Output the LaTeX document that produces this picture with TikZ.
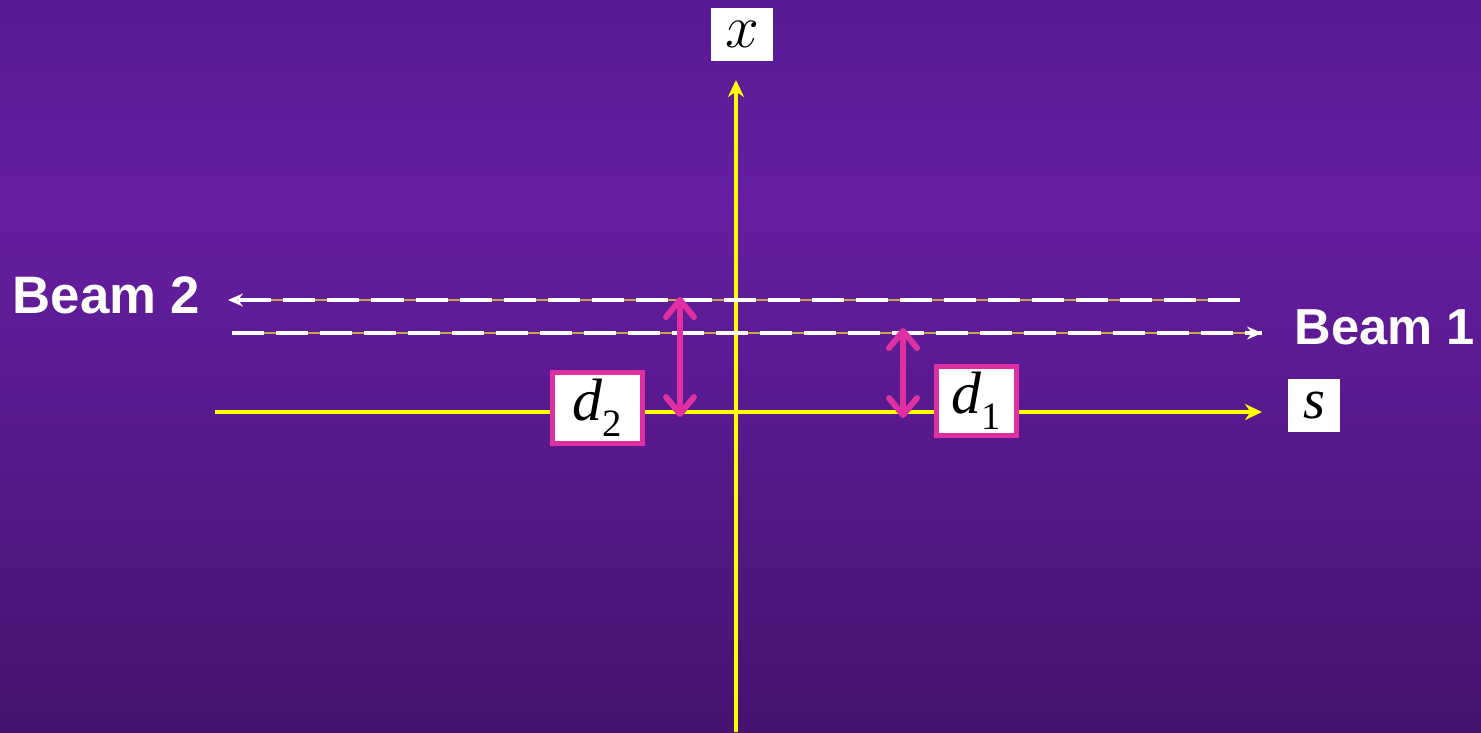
\documentclass[tikz,border=0pt]{standalone}
\usepackage{fontspec}
\newfontfamily\beamfont{Liberation Sans}
\newfontfamily\symfont{Liberation Serif}
\usepackage{xcolor}
\definecolor{bgtop}{RGB}{88,26,148}
\definecolor{bgmid}{RGB}{102,30,162}
\definecolor{bgbot}{RGB}{70,19,112}
\definecolor{axisyellow}{RGB}{255,255,0}
\definecolor{beamgold}{RGB}{200,168,70}
\definecolor{gapmag}{RGB}{222,48,160}
\usepackage{tikz}
\usetikzlibrary{arrows.meta, positioning}
\newcommand{\sym}[1]{{\symfont\itshape #1}}
\newcommand{\symsub}[2]{\sym{#1}\raisebox{-0.26em}{\symfont\fontsize{11}{12}\selectfont #2}}

\begin{document}
\begin{tikzpicture}[
  x=0.01cm, y=-0.01cm,
  axis/.style={draw=axisyellow, line width=0.04cm,
               -{Stealth[length=0.17cm, width=0.16cm]}},
  beam/.style={draw=beamgold, line width=0.015cm,
               -{Stealth[white, length=0.15cm, width=0.13cm, inset=0.05cm]},
               postaction={draw=white, line width=0.045cm,
                           dash pattern=on 0.32cm off 0.12cm, arrows=-}},
  gap/.style={draw=gapmag, line width=0.06cm,
              {Straight Barb[length=0.17cm, width=0.28cm, round]}-{Straight Barb[length=0.17cm, width=0.28cm, round]}},
  axlabel/.style={fill=white, inner sep=0pt, font=\fontsize{18}{20}\selectfont},
  dbox/.style={axlabel, draw=gapmag, line width=0.05cm, font=\fontsize{17}{20}\selectfont},
  beamlabel/.style={inner sep=0pt, anchor=base west, text=white,
                    font=\beamfont\bfseries\fontsize{15}{18}\selectfont}
]
% Background
\useasboundingbox (0,0) rectangle (1481,732);
\shade[top color=bgtop, bottom color=bgmid] (0,0) rectangle (1481,201);
\shade[top color=bgmid, bottom color=bgbot] (0,200) rectangle (1481,732);

% Axes
\coordinate (xfoot) at (736,732);
\coordinate (xtip) at (736,80);
\coordinate (sfoot) at (215,412);
\coordinate (stip) at (1262,412);
\draw[axis] (xfoot) -- (xtip);
\draw[axis] (sfoot) -- (stip);
\node[axlabel, minimum width=0.62cm, minimum height=0.53cm] (xlab) at (742,34.5) {$x$};
\node[axlabel, minimum width=0.52cm, minimum height=0.53cm, font=\fontsize{16}{18}\selectfont] (slab) at (1314,405.5) {\sym{s}};

% Beams
\coordinate (b2start) at (1240,300);
\coordinate (b2end) at (228,300);
\coordinate (b1start) at (232,333);
\coordinate (b1end) at (1262,333);
\draw[beam] (b2start) -- (b2end);
\draw[beam] (b1start) -- (b1end);
\node[beamlabel] (b2lab) at (12,313) {Beam 2};
\node[beamlabel, font=\beamfont\bfseries\fontsize{14.4}{18}\selectfont] (b1lab) at (1294,344) {Beam 1};

% Offsets
\coordinate (g2top) at (680,297);
\coordinate (g2bot) at (680,417);
\coordinate (g1top) at (903,328);
\coordinate (g1bot) at (903,418);
\draw[gap] (g2top) -- (g2bot);
\draw[gap] (g1top) -- (g1bot);
\node[dbox, minimum width=0.9cm, minimum height=0.71cm] (d2lab) at (597.5,408) {\symsub{d}{2}};
\node[dbox, minimum width=0.8cm, minimum height=0.69cm] (d1lab) at (976.5,401) {\symsub{d}{1}};
\end{tikzpicture}
\end{document}
